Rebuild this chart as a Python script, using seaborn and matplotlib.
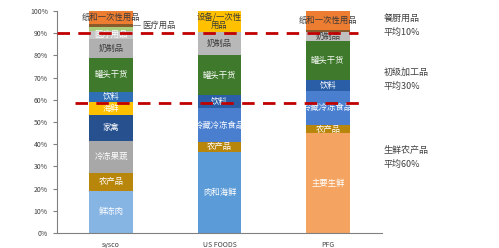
import matplotlib
matplotlib.use("Agg")
import matplotlib.pyplot as plt
import seaborn as sns
import numpy as np
import pandas as pd

sns.set_style("white")
plt.rcParams['font.family'] = ['Noto Sans CJK SC', 'DejaVu Sans']

companies = ["sysco", "US FOODS", "PFG"]

sysco_names = ["鲜冻肉", "农产品", "冷冻果蔬", "家禽", "海鲜", "饮料", "罐头干货",
               "奶制品", "医疗用品", "设备", "其他", "纸和一次性用品"]
sysco_vals = [19, 8, 14.6, 11.6, 6, 4.5, 15, 8.8, 3.5, 1.8, 1.2, 6]
sysco_labels = ["鲜冻肉", "农产品", "冷冻果蔬", "家禽", "海鲜", "饮料", "罐头干货",
                "奶制品", "医疗用品", "", "", "纸和一次性用品"]
sysco_colors = ["#86b4e3", "#b8860b", "#a8a8a8", "#27508f", "#ffc000", "#2e6fb5",
                "#3f7a2c", "#b0b0b0", "#c6c6c6", "#a9cc7a", "#8b5a2b", "#ed7d31"]

us_names = ["肉和海鲜", "农产品", "冷藏冷冻食品", "饮料", "罐头干货", "奶制品", "设备/一次性用品"]
us_vals = [36.6, 4.5, 15.1, 5.8, 18.2, 10.5, 9.3]
us_labels = ["肉和海鲜", "农产品", "冷藏冷冻食品", "饮料", "罐头干货", "奶制品", "设备/一次性\n用品"]
us_colors = ["#5b9bd8", "#b8860b", "#4a7fd0", "#2a5fa8", "#3f7a2c", "#b8b8b8", "#ffc000"]

pfg_names = ["主要生鲜", "农产品", "冷藏冷冻食品", "饮料", "罐头干货", "奶制品", "其他", "纸和一次性用品"]
pfg_vals = [45, 3.6, 15.5, 4.9, 17.5, 4, 0.8, 8.7]
pfg_labels = ["主要生鲜", "农产品", "冷藏冷冻食品", "饮料", "罐头干货", "奶制品", "", "纸和一次性用品"]
pfg_colors = ["#f4a460", "#b8860b", "#4a7fd0", "#2a5fa8", "#3f7a2c", "#c0c0c0", "#8b5a2b", "#ed7d31"]

dark_text = {"奶制品", "纸和一次性用品", "设备/一次性\n用品"}

series = [
    (sysco_vals, sysco_labels, sysco_colors),
    (us_vals, us_labels, us_colors),
    (pfg_vals, pfg_labels, pfg_colors),
]

fig = plt.figure(figsize=(4.99, 2.48), dpi=100)
ax = fig.add_axes([57/499, 1-233/248, (382-57)/499, (233-11)/248])

bar_w = 0.4
for ci, (vals, labels, colors) in enumerate(series):
    tops = np.cumsum(vals)
    bottoms = tops - np.array(vals)
    for k in range(len(vals) - 1, -1, -1):
        df = pd.DataFrame({"company": [companies[ci]], "top": [tops[k]]})
        sns.barplot(data=df, x="company", y="top", order=companies, color=colors[k],
                    saturation=1, width=bar_w, ax=ax, linewidth=0, errorbar=None)
    for k, lab in enumerate(labels):
        if not lab:
            continue
        c = "#3a3a3a" if lab in dark_text else "white"
        ax.text(ci, (bottoms[k] + tops[k]) / 2, lab, ha="center", va="center",
                fontsize=6, color=c, clip_on=False, linespacing=1.0)

# dashed reference lines
ax.hlines(90, -0.5, 2.28, colors="#c00000", linestyles=(0, (4.5, 3)), lw=2.0, zorder=5)
ax.hlines(58.5, -0.33, 2.31, colors="#c00000", linestyles=(0, (4.5, 3)), lw=2.0, zorder=5)

# 医疗用品 callout
ax.plot([0.2, 0.265], [93.7, 93.7], color="#808080", lw=0.6, clip_on=False)
ax.text(0.285, 93.7, "医疗用品", ha="left", va="center", fontsize=6, color="#404040")

ax.set_xlim(-0.5, 2.5)
ax.set_ylim(0, 100)
ax.set_yticks(np.arange(0, 101, 10))
ax.set_yticklabels([f"{v}%" for v in range(0, 101, 10)], fontsize=5, color="#404040")
ax.set_xlabel("")
ax.set_ylabel("")
ax.tick_params(axis="x", length=0, labelsize=5, labelcolor="#404040", pad=6)
ax.set_xticks([-0.5, 0.5, 1.5, 2.5], minor=True)
ax.tick_params(axis="x", which="minor", length=3, color="#808080", direction="out")
ax.tick_params(axis="y", length=3, color="#808080", direction="out", left=True)
for s in ["top", "right"]:
    ax.spines[s].set_visible(False)
for s in ["left", "bottom"]:
    ax.spines[s].set_color("#808080")
    ax.spines[s].set_linewidth(0.8)

notes = [("餐厨用品", 18), ("平均10%", 32), ("初级加工品", 72), ("平均30%", 86),
         ("生鲜农产品", 150), ("平均60%", 164)]
for t, py in notes:
    fig.text(384/499, 1 - py/248, t, ha="left", va="center", fontsize=6.5, color="#404040")

fig.savefig("out.png", dpi=100)
